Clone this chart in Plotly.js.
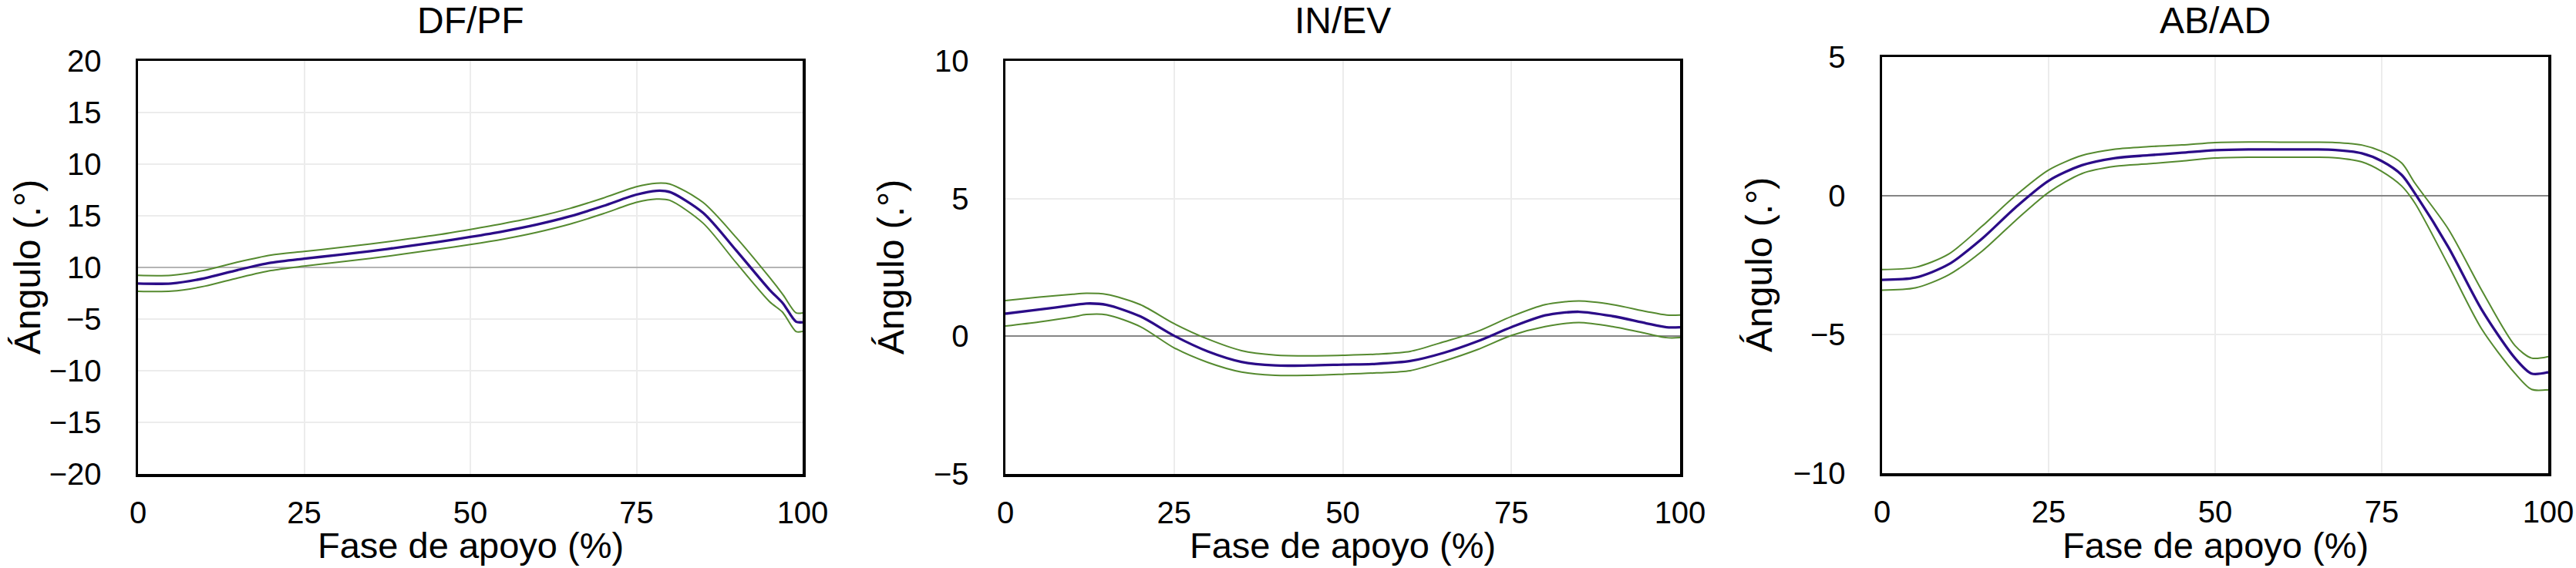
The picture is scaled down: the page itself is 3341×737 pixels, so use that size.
<!DOCTYPE html>
<html>
<head>
<meta charset="utf-8">
<script src="https://cdn.plot.ly/plotly-3.0.1.min.js"></script>
<style>html,body{margin:0;padding:0;background:#fff;}#chart{width:3341px;height:737px;}</style>
</head>
<body>
<div id="chart"></div>
<script>
// ---- DATA ----
const titles = ["DF/PF", "IN/EV", "AB/AD"];
const xTitle = "Fase de apoyo (%)";
const yTitle = "Ángulo (.°)";
const xTickVals = [0, 25, 50, 75, 100];
const xTickText = ["0", "25", "50", "75", "100"];

// DF/PF
const dfX = [0,5,10,15,20,25,30,35,40,45,50,55,60,65,70,75,78,80,85,90,95,97,99,100];
const dfMean = [-1.56,-1.55,-1.05,-0.25,0.45,0.85,1.2,1.58,2.0,2.45,2.95,3.5,4.15,4.95,5.95,7.05,7.42,7.3,5.3,1.65,-2.15,-3.45,-5.25,-5.3];
const dfUpper = [-0.77,-0.76,-0.28,0.52,1.2,1.55,1.9,2.28,2.7,3.15,3.68,4.25,4.9,5.72,6.72,7.82,8.16,8.08,6.3,2.9,-0.95,-2.6,-4.4,-4.4];
const dfLower = [-2.31,-2.3,-1.82,-1.02,-0.3,0.13,0.5,0.88,1.3,1.75,2.22,2.75,3.4,4.2,5.2,6.3,6.62,6.5,4.3,0.45,-3.3,-4.35,-6.2,-6.2];
const dfTickVals = [-20,-15,-10,-5,0,5,10,15,20];
const dfTickText = ["\u221220","\u221215","\u221210","\u22125","10","15","10","15","20"];

// IN/EV
const ieX = [0,5,10,12,15,20,25,30,35,40,45,50,55,60,65,70,75,80,85,90,95,98,100];
const ieMean = [0.82,0.97,1.13,1.19,1.14,0.72,0.02,-0.55,-0.93,-1.06,-1.06,-1.03,-1.0,-0.9,-0.6,-0.18,0.33,0.76,0.89,0.73,0.47,0.33,0.33];
const ieUpper = [1.3,1.42,1.53,1.56,1.52,1.15,0.46,-0.1,-0.52,-0.68,-0.71,-0.69,-0.65,-0.55,-0.2,0.18,0.72,1.15,1.28,1.15,0.9,0.77,0.77];
const ieLower = [0.37,0.52,0.7,0.79,0.78,0.35,-0.42,-0.95,-1.3,-1.42,-1.42,-1.38,-1.33,-1.25,-0.9,-0.48,0.03,0.35,0.5,0.35,0.1,-0.05,-0.05];
const ieTickVals = [-5,0,5,10];
const ieTickText = ["\u22125","0","5","10"];

// AB/AD
const abX = [0,5,10,15,20,25,30,35,40,45,50,55,60,65,68,72,75,78,80,85,90,95,97.5,100];
const abMean = [-3.03,-2.95,-2.47,-1.55,-0.43,0.54,1.1,1.36,1.46,1.55,1.64,1.67,1.67,1.67,1.65,1.53,1.25,0.75,0.08,-1.85,-4.1,-5.85,-6.41,-6.36];
const abUpper = [-2.66,-2.58,-2.1,-1.1,0.0,0.93,1.45,1.68,1.77,1.83,1.92,1.94,1.93,1.93,1.92,1.83,1.6,1.18,0.45,-1.2,-3.4,-5.4,-5.85,-5.8];
const abLower = [-3.4,-3.32,-2.85,-2.0,-0.9,0.12,0.8,1.06,1.15,1.25,1.36,1.39,1.39,1.39,1.37,1.22,0.88,0.35,-0.27,-2.5,-4.8,-6.4,-6.98,-6.99];
const abTickVals = [-10,-5,0,5];
const abTickText = ["\u221210","\u22125","0","5"];

// ---- LAYOUT ----
const W = 3341, H = 737;
const FONT = "Liberation Sans, Arial, Helvetica, sans-serif";
const meanColor = "#2b0c88";
const bandColor = "#558a2f";

const panels = [
  {x: dfX, m: dfMean, u: dfUpper, l: dfLower, range: [-20, 20], tv: dfTickVals, tt: dfTickText,
   xd: [179, 1041], yd: [79, 615], zc: "#b4b4b4", ytx: 35},
  {x: ieX, m: ieMean, u: ieUpper, l: ieLower, range: [-5, 10], tv: ieTickVals, tt: ieTickText,
   xd: [1304, 2179], yd: [79, 615], zc: "#858585", ytx: 1155},
  {x: abX, m: abMean, u: abUpper, l: abLower, range: [-10, 5], tv: abTickVals, tt: abTickText,
   xd: [2441, 3305], yd: [74, 614], zc: "#858585", ytx: 2281}
];

const traces = [];
const layout = {
  width: W, height: H,
  margin: {l: 0, r: 0, t: 0, b: 0},
  paper_bgcolor: "#ffffff", plot_bgcolor: "#ffffff",
  showlegend: false,
  font: {family: FONT, color: "#000", size: 40},
  annotations: []
};

panels.forEach((p, i) => {
  const n = i + 1;
  const xa = n === 1 ? "x" : "x" + n;
  const ya = n === 1 ? "y" : "y" + n;
  const common = {x: p.x, xaxis: xa, yaxis: ya, mode: "lines", hoverinfo: "skip"};
  traces.push(Object.assign({}, common, {y: p.u, line: {color: bandColor, width: 2, shape: "spline", smoothing: 0.8}}));
  traces.push(Object.assign({}, common, {y: p.l, line: {color: bandColor, width: 2, shape: "spline", smoothing: 0.8}}));
  traces.push(Object.assign({}, common, {y: p.m, line: {color: meanColor, width: 3.3, shape: "spline", smoothing: 0.8}}));

  layout["xaxis" + (n === 1 ? "" : n)] = {
    domain: [p.xd[0] / W, p.xd[1] / W],
    anchor: ya,
    range: [0, 100],
    tickvals: xTickVals, ticktext: xTickText,
    ticks: "", ticklabelstandoff: 12,
    tickfont: {family: FONT, size: 40, color: "#000"},
    showgrid: true, gridcolor: "#ececec", gridwidth: 2,
    zeroline: false,
    showline: true, mirror: true, linecolor: "#000", linewidth: 3.5,
    fixedrange: true
  };
  layout["yaxis" + (n === 1 ? "" : n)] = {
    domain: [1 - p.yd[1] / H, 1 - p.yd[0] / H],
    anchor: xa,
    range: p.range,
    tickvals: p.tv, ticktext: p.tt,
    ticks: "", ticklabelstandoff: 36,
    tickfont: {family: FONT, size: 40, color: "#000"},
    showgrid: true, gridcolor: "#ececec", gridwidth: 2,
    zeroline: true, zerolinecolor: p.zc, zerolinewidth: 2,
    showline: true, mirror: true, linecolor: "#000", linewidth: 3.5,
    fixedrange: true
  };

  const cx = (p.xd[0] + p.xd[1]) / 2;
  layout.annotations.push({
    text: titles[i], xref: "paper", yref: "paper",
    x: cx / W, y: 1 - 27 / H, xanchor: "center", yanchor: "middle",
    showarrow: false, font: {family: FONT, size: 48, color: "#000"}
  });
  layout.annotations.push({
    text: xTitle, xref: "paper", yref: "paper",
    x: cx / W, y: 1 - 707 / H, xanchor: "center", yanchor: "middle",
    showarrow: false, font: {family: FONT, size: 47, color: "#000"}
  });
  layout.annotations.push({
    text: yTitle, xref: "paper", yref: "paper", textangle: -90,
    x: p.ytx / W, y: 1 - ((p.yd[0] + p.yd[1]) / 2) / H, xanchor: "center", yanchor: "middle",
    showarrow: false, font: {family: FONT, size: 48, color: "#000"}
  });
});

Plotly.newPlot("chart", traces, layout, {staticPlot: true, displayModeBar: false});
</script>
</body>
</html>
